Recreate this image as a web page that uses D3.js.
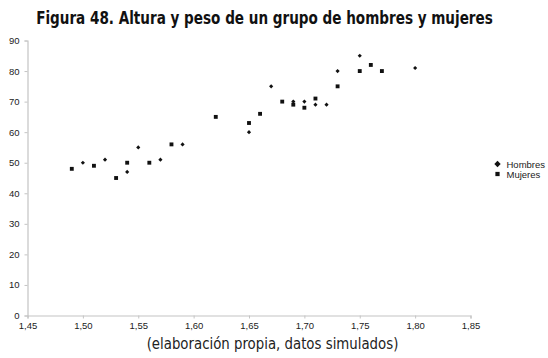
<!DOCTYPE html>
<html><head><meta charset="utf-8">
<script src="https://cdn.jsdelivr.net/npm/d3@7"></script>
<style>body{margin:0;background:#fff}svg{display:block}</style>
</head><body><svg id="c" width="548" height="358"></svg>
<script>
const title = "Figura 48. Altura y peso de un grupo de hombres y mujeres";
const subtitle = "(elaboración propia, datos simulados)";
const seriesNames = ["Hombres", "Mujeres"];
const hombresAltura = [1.50,1.52,1.54,1.55,1.57,1.59,1.65,1.67,1.69,1.70,1.71,1.72,1.73,1.75,1.80];
const hombresPeso   = [50,51,47,55,51,56,60,75,70,70,69,69,80,85,81];
const mujeresAltura = [1.49,1.51,1.53,1.54,1.56,1.58,1.62,1.65,1.66,1.68,1.69,1.70,1.71,1.73,1.75,1.76,1.77];
const mujeresPeso   = [48,49,45,50,50,56,65,63,66,70,69,68,71,75,80,82,80];
const xTicks = [1.45,1.50,1.55,1.60,1.65,1.70,1.75,1.80,1.85];
const yTicks = [0,10,20,30,40,50,60,70,80,90];

const svg = d3.select("#c");
const x = d3.scaleLinear().domain([1.45,1.85]).range([27.5,470.5]);
const y = d3.scaleLinear().domain([0,90]).range([315.5,40.5]);
const fmt = v => v.toFixed(2).replace(".", ",");

// axes
const xa = svg.append("g").attr("transform","translate(0,315.5)")
  .call(d3.axisBottom(x).tickValues(xTicks).tickFormat(fmt).tickSize(3).tickPadding(4));
const ya = svg.append("g").attr("transform","translate(27.5,0)")
  .call(d3.axisLeft(y).tickValues(yTicks).tickSize(3).tickPadding(5));
[xa,ya].forEach(a=>{
  a.selectAll("path").attr("stroke","#c4c4c4").attr("stroke-width",1.2);
  a.selectAll("line").attr("stroke","#c4c4c4");
  a.selectAll("text").attr("fill","#222").style("font-family","Liberation Sans, Arial, sans-serif").style("font-size","9.5px");
});

const hombres = hombresAltura.map((a,i)=>({a, p:hombresPeso[i]}));
const mujeres = mujeresAltura.map((a,i)=>({a, p:mujeresPeso[i]}));

svg.append("g").selectAll("path").data(mujeres).join("path")
  .attr("d", d3.symbol().type(d3.symbolSquare).size(15)()).attr("fill","#111")
  .attr("transform", d=>`translate(${x(d.a)},${y(d.p)})`);
svg.append("g").selectAll("path").data(hombres).join("path")
  .attr("d", d3.symbol().type(d3.symbolDiamond2).size(11)()).attr("fill","#111")
  .attr("transform", d=>`translate(${x(d.a)},${y(d.p)})`);

// legend
const lg = svg.append("g").attr("transform","translate(497.5,164)");
seriesNames.forEach((n,i)=>{
  const g = lg.append("g").attr("transform",`translate(0,${i*10})`);
  g.append("path").attr("d", (i===0? d3.symbol().type(d3.symbolDiamond2).size(26) : d3.symbol().type(d3.symbolSquare).size(18))()).attr("fill","#111");
  g.append("text").attr("x",9).attr("y",3.5).text(n)
    .style("font-family","Liberation Sans, Arial, sans-serif").style("font-size","9.5px").attr("fill","#222");
});

// title and subtitle, condensed horizontally to the reference widths
function fitText(cx, cy, txt, size, weight, width, fill){
  const g = svg.append("g");
  const t = g.append("text").attr("x",0).attr("y",0).attr("text-anchor","middle")
    .style("font-family","Liberation Sans Narrow, DejaVu Sans Condensed, sans-serif")
    .style("font-weight",weight).style("font-size",size+"px").attr("fill",fill).text(txt);
  const L = t.node().getComputedTextLength();
  const s = width / L;
  g.attr("transform",`translate(${cx},${cy}) scale(${s},1)`);
}
fitText(264.5, 24, title, 18, "bold", 457, "#111");
fitText(272.5, 349, subtitle, 16, "normal", 252, "#222");
</script></body></html>
